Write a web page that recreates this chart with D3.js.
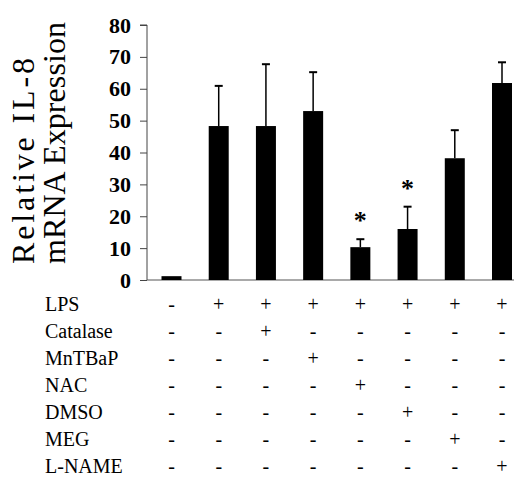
<!DOCTYPE html>
<html>
<head>
<meta charset="utf-8">
<script src="https://cdn.jsdelivr.net/npm/d3@7"></script>
<style>
  body { margin: 0; background: #fff; }
  svg text { font-family: "Liberation Serif", "DejaVu Serif", serif; fill: #000; }
</style>
</head>
<body>
<div id="content"></div>
<script>
// data
let groups = ["g1", "g2", "g3", "g4", "g5", "g6", "g7", "g8"];
let means = [1.2, 48.3, 48.3, 53, 10.3, 16, 38.2, 61.8];
let errors = [0, 12.6, 19.4, 12.2, 2.5, 7, 8.8, 6.5];
let significant = [false, false, false, false, true, true, false, false];
let yTicks = [0, 10, 20, 30, 40, 50, 60, 70, 80];

let treatments = ["LPS", "Catalase", "MnTBaP", "NAC", "DMSO", "MEG", "L-NAME"];
let treatmentSigns = [
    ["-", "+", "+", "+", "+", "+", "+", "+"],
    ["-", "-", "+", "-", "-", "-", "-", "-"],
    ["-", "-", "-", "+", "-", "-", "-", "-"],
    ["-", "-", "-", "-", "+", "-", "-", "-"],
    ["-", "-", "-", "-", "-", "+", "-", "-"],
    ["-", "-", "-", "-", "-", "-", "+", "-"],
    ["-", "-", "-", "-", "-", "-", "-", "+"]
];

const chartW = 514, chartH = 478;
const axisX = 147, plotTop = 25, plotBase = 280;
const barW = 20;

let svg = d3.select("#content")
    .append("svg")
    .attr("width", chartW)
    .attr("height", chartH);

const x = d3.scalePoint().domain(groups).range([171.5, 502]);
const y = d3.scaleLinear().domain([0, 80]).range([plotBase, plotTop]);

// Y axis
let yAxis = svg.append("g")
    .attr("transform", "translate(" + axisX + ",0)")
    .call(d3.axisLeft(y).tickValues(yTicks).tickSize(7).tickPadding(9));
yAxis.select(".domain").attr("stroke", "#444").attr("d", "M-7," + plotTop + "H0V" + plotBase);
yAxis.selectAll(".tick line").attr("stroke", "#444");
yAxis.selectAll(".tick text")
    .style("font-family", "'Liberation Serif', serif")
    .style("font-weight", "bold")
    .style("font-size", "22px")
    .attr("fill", "#000");

// baseline
svg.append("line")
    .attr("x1", axisX).attr("x2", chartW)
    .attr("y1", plotBase).attr("y2", plotBase)
    .attr("stroke", "#555")
    .attr("stroke-width", 1);

// axis title
let title = svg.append("g")
    .attr("transform", "translate(0," + 264 + ") rotate(-90)");
title.append("text")
    .attr("x", 0).attr("y", 34)
    .style("font-size", "32px")
    .attr("textLength", 206)
    .attr("lengthAdjust", "spacing")
    .text("Relative IL-8");
title.append("text")
    .attr("x", 0).attr("y", 65)
    .style("font-size", "32px")
    .attr("textLength", 242)
    .attr("lengthAdjust", "spacing")
    .text("mRNA Expression");

// error bars
let err = svg.append("g").attr("stroke", "#000").attr("stroke-width", 1.5);
groups.forEach(function(g, i) {
    if (errors[i] <= 0) return;
    let cx = x(g);
    err.append("line")
        .attr("x1", cx).attr("x2", cx)
        .attr("y1", y(means[i])).attr("y2", y(means[i] + errors[i]));
    err.append("line")
        .attr("x1", cx - 4).attr("x2", cx + 4)
        .attr("y1", y(means[i] + errors[i])).attr("y2", y(means[i] + errors[i]))
        .attr("stroke-width", 2);
});

// bars
svg.append("g")
    .selectAll("rect")
    .data(groups)
    .enter()
    .append("rect")
    .attr("x", function(d) { return x(d) - barW / 2; })
    .attr("width", barW)
    .attr("y", function(d, i) { return y(means[i]); })
    .attr("height", function(d, i) { return plotBase - y(means[i]); })
    .attr("fill", "#000");

// asterisks
svg.append("g")
    .selectAll("text")
    .data(groups.filter(function(d, i) { return significant[i]; }))
    .enter()
    .append("text")
    .attr("x", function(d) { return x(d); })
    .attr("y", function(d) {
        let i = groups.indexOf(d);
        return y(means[i] + errors[i]) - 22 + 12;
    })
    .attr("text-anchor", "middle")
    .style("font-size", "26px")
    .style("font-weight", "bold")
    .text("*");

// treatment table
let rowY = d3.scalePoint().domain(treatments).range([311, 473]);
let table = svg.append("g");
treatments.forEach(function(t, r) {
    table.append("text")
        .attr("x", 45).attr("y", rowY(t))
        .style("font-size", "20px")
        .text(t);
    treatmentSigns[r].forEach(function(s, c) {
        table.append("text")
            .attr("x", x(groups[c])).attr("y", rowY(t))
            .attr("text-anchor", "middle")
            .style("font-size", "20px")
            .text(s);
    });
});
</script>
</body>
</html>
